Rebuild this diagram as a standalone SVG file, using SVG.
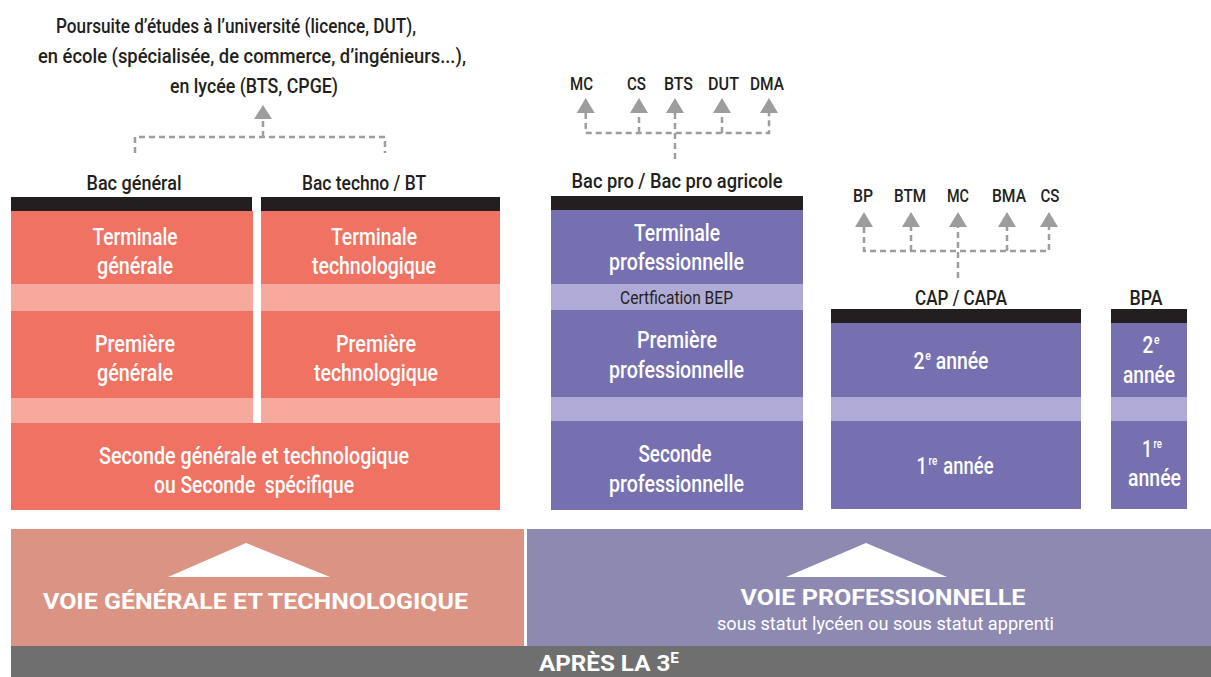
<svg xmlns="http://www.w3.org/2000/svg" width="1211" height="677" viewBox="0 0 1211 677">
<defs>
<style>
text{font-family:"Roboto","Liberation Sans",Arial,sans-serif;text-anchor:middle;font-weight:500}
.lbl{fill:#231F20;font-size:21px}
.sm{fill:#231F20;font-size:19px}
.box{fill:#fff;font-size:24px}
.cert{fill:#231F20;font-size:18px;font-weight:400}
.coral{fill:#F07262}
.coralL{fill:#F7A99D}
.pur{fill:#7670B0}
.purL{fill:#B0ABD6}
.bar{fill:#231F20}
.dash{fill:none;stroke:#9D9D9D;stroke-width:2.5;stroke-dasharray:6 4}
.arr{fill:#9D9D9D}
.bt{fill:#fff;font-weight:700;font-size:22px}
.sub{fill:#fff;font-weight:400;font-size:19px}
</style>
</defs>
<rect width="1211" height="677" fill="#fff"/>

<g id="poursuite-etudes">
<text class="lbl" x="236" y="33" textLength="360" lengthAdjust="spacingAndGlyphs">Poursuite d’études à l’université (licence, DUT),</text>
<text class="lbl" x="252" y="63" textLength="428" lengthAdjust="spacingAndGlyphs">en école (spécialisée, de commerce, d’ingénieurs...),</text>
<text class="lbl" x="254" y="93" textLength="168" lengthAdjust="spacingAndGlyphs">en lycée (BTS, CPGE)</text>
</g>

<g id="bac-general">
<text class="lbl" x="134" y="190" textLength="95" lengthAdjust="spacingAndGlyphs">Bac général</text>
<rect class="bar" x="11" y="197" width="241" height="14"/>
<rect class="coral" x="11" y="211" width="242" height="73"/>
<rect class="coralL" x="11" y="284" width="242" height="27"/>
<rect class="coral" x="11" y="311" width="242" height="87"/>
<rect class="coralL" x="11" y="398" width="242" height="25"/>
<text class="box" x="135" y="245" textLength="85" lengthAdjust="spacingAndGlyphs">Terminale</text>
<text class="box" x="135" y="274" textLength="76" lengthAdjust="spacingAndGlyphs">générale</text>
<text class="box" x="135" y="352" textLength="80" lengthAdjust="spacingAndGlyphs">Première</text>
<text class="box" x="135" y="381" textLength="76" lengthAdjust="spacingAndGlyphs">générale</text>
</g>

<g id="bac-techno">
<text class="lbl" x="364" y="190" textLength="124" lengthAdjust="spacingAndGlyphs">Bac techno / BT</text>
<rect class="bar" x="261" y="197" width="239" height="14"/>
<rect class="coral" x="261" y="211" width="239" height="73"/>
<rect class="coralL" x="261" y="284" width="239" height="27"/>
<rect class="coral" x="261" y="311" width="239" height="87"/>
<rect class="coralL" x="261" y="398" width="239" height="25"/>
<text class="box" x="374" y="245" textLength="86" lengthAdjust="spacingAndGlyphs">Terminale</text>
<text class="box" x="374" y="274" textLength="124" lengthAdjust="spacingAndGlyphs">technologique</text>
<text class="box" x="376" y="352" textLength="80" lengthAdjust="spacingAndGlyphs">Première</text>
<text class="box" x="376" y="381" textLength="124" lengthAdjust="spacingAndGlyphs">technologique</text>
</g>

<g id="seconde-gt">
<rect class="coral" x="11" y="423" width="489" height="87"/>
<text class="box" x="254" y="464" textLength="310" lengthAdjust="spacingAndGlyphs">Seconde générale et technologique</text>
<text class="box" x="254" y="493" textLength="200" lengthAdjust="spacingAndGlyphs" xml:space="preserve">ou Seconde  spécifique</text>
</g>

<g id="debouches-bac-pro">
<text class="sm" x="581.5" y="90" textLength="23" lengthAdjust="spacingAndGlyphs">MC</text>
<text class="sm" x="636.5" y="90" textLength="19" lengthAdjust="spacingAndGlyphs">CS</text>
<text class="sm" x="678.5" y="90" textLength="29" lengthAdjust="spacingAndGlyphs">BTS</text>
<text class="sm" x="723.5" y="90" textLength="31" lengthAdjust="spacingAndGlyphs">DUT</text>
<text class="sm" x="767" y="90" textLength="34" lengthAdjust="spacingAndGlyphs">DMA</text>
</g>

<g id="bac-pro">
<text class="lbl" x="677" y="188" textLength="211" lengthAdjust="spacingAndGlyphs">Bac pro / Bac pro agricole</text>
<rect class="bar" x="551" y="196" width="252" height="14"/>
<rect class="pur" x="551" y="210" width="252" height="74"/>
<rect class="purL" x="551" y="284" width="252" height="26"/>
<rect class="pur" x="551" y="310" width="252" height="87"/>
<rect class="purL" x="551" y="397" width="252" height="24"/>
<rect class="pur" x="551" y="421" width="252" height="89"/>
<text class="box" x="677" y="241" textLength="86" lengthAdjust="spacingAndGlyphs">Terminale</text>
<text class="box" x="676.5" y="270" textLength="135" lengthAdjust="spacingAndGlyphs">professionnelle</text>
<text class="cert" x="676.5" y="304" textLength="113" lengthAdjust="spacingAndGlyphs">Certfication BEP</text>
<text class="box" x="677" y="348" textLength="80" lengthAdjust="spacingAndGlyphs">Première</text>
<text class="box" x="676.5" y="378" textLength="135" lengthAdjust="spacingAndGlyphs">professionnelle</text>
<text class="box" x="675" y="462" textLength="73" lengthAdjust="spacingAndGlyphs">Seconde</text>
<text class="box" x="676.5" y="492" textLength="135" lengthAdjust="spacingAndGlyphs">professionnelle</text>
</g>

<g id="debouches-cap">
<text class="sm" x="863" y="202" textLength="20" lengthAdjust="spacingAndGlyphs">BP</text>
<text class="sm" x="910" y="202" textLength="32" lengthAdjust="spacingAndGlyphs">BTM</text>
<text class="sm" x="958" y="202" textLength="22" lengthAdjust="spacingAndGlyphs">MC</text>
<text class="sm" x="1009" y="202" textLength="34" lengthAdjust="spacingAndGlyphs">BMA</text>
<text class="sm" x="1050" y="202" textLength="19" lengthAdjust="spacingAndGlyphs">CS</text>
</g>

<g id="cap-capa">
<text class="lbl" x="961" y="305" textLength="92" lengthAdjust="spacingAndGlyphs">CAP / CAPA</text>
<rect class="bar" x="831" y="309" width="250" height="14"/>
<rect class="pur" x="831" y="323" width="250" height="74"/>
<rect class="purL" x="831" y="397" width="250" height="24"/>
<rect class="pur" x="831" y="421" width="250" height="88"/>
<text class="box" x="951" y="369" textLength="75" lengthAdjust="spacingAndGlyphs">2<tspan font-size="13" dx="1" dy="-9">e</tspan><tspan dy="9"> année</tspan></text>
<text class="box" x="955" y="474" textLength="77" lengthAdjust="spacingAndGlyphs">1<tspan font-size="13" dx="2" dy="-9">re</tspan><tspan dx="2" dy="9"> année</tspan></text>
</g>

<g id="bpa">
<text class="lbl" x="1146" y="305" textLength="33" lengthAdjust="spacingAndGlyphs">BPA</text>
<rect class="bar" x="1111" y="309" width="76" height="14"/>
<rect class="pur" x="1111" y="323" width="76" height="74"/>
<rect class="purL" x="1111" y="397" width="76" height="24"/>
<rect class="pur" x="1111" y="421" width="76" height="88"/>
<text class="box" x="1151" y="353" textLength="17" lengthAdjust="spacingAndGlyphs">2<tspan font-size="13" dx="1" dy="-9">e</tspan></text>
<text class="box" x="1149" y="383" textLength="52" lengthAdjust="spacingAndGlyphs">année</text>
<text class="box" x="1152" y="457" textLength="20" lengthAdjust="spacingAndGlyphs">1<tspan font-size="13" dx="2" dy="-9">re</tspan></text>
<text class="box" x="1154.5" y="486" textLength="53" lengthAdjust="spacingAndGlyphs">année</text>
</g>

<g id="voie-generale-technologique">
<rect x="11" y="529" width="513" height="117" fill="#DB9484"/>
<polygon points="168,577 246,543 330,577" fill="#fff"/>
<text class="bt" x="255.5" y="609" textLength="425" lengthAdjust="spacingAndGlyphs">VOIE GÉNÉRALE ET TECHNOLOGIQUE</text>
</g>

<g id="voie-professionnelle">
<rect x="527" y="529" width="684" height="117" fill="#8D89B1"/>
<polygon points="786,577 866,543 947,577" fill="#fff"/>
<text class="bt" x="883" y="605" textLength="285" lengthAdjust="spacingAndGlyphs">VOIE PROFESSIONNELLE</text>
<text class="sub" x="885.5" y="630" textLength="337" lengthAdjust="spacingAndGlyphs">sous statut lycéen ou sous statut apprenti</text>
</g>

<g id="apres-3e">
<rect x="11" y="646" width="1200" height="31" fill="#6F6F70"/>
<text class="bt" x="609" y="671" textLength="140" lengthAdjust="spacingAndGlyphs">APRÈS LA 3<tspan font-size="14" dy="-8">E</tspan></text>
</g>

<g id="connectors">
<path class="dash" d="M135 153V137H385V153M263 137V119"/>
<polygon class="arr" points="254,119 263,105 272,119"/>
<path class="dash" d="M585.7 113V133H769V113M639 133V113M722 133V113M675 159V113"/>
<polygon class="arr" points="576.7,113 585.7,98 594.7,113"/>
<polygon class="arr" points="630,113 639,98 648,113"/>
<polygon class="arr" points="666,113 675,98 684,113"/>
<polygon class="arr" points="713,113 722,98 731,113"/>
<polygon class="arr" points="760,113 769,98 778,113"/>
<path class="dash" d="M864 227V251H1049V227M911 251V227M1007 251V227M958 278V227"/>
<polygon class="arr" points="855,227 864,212 873,227"/>
<polygon class="arr" points="902,227 911,212 920,227"/>
<polygon class="arr" points="949,227 958,212 967,227"/>
<polygon class="arr" points="998,227 1007,212 1016,227"/>
<polygon class="arr" points="1040,227 1049,212 1058,227"/>
</g>
</svg>
